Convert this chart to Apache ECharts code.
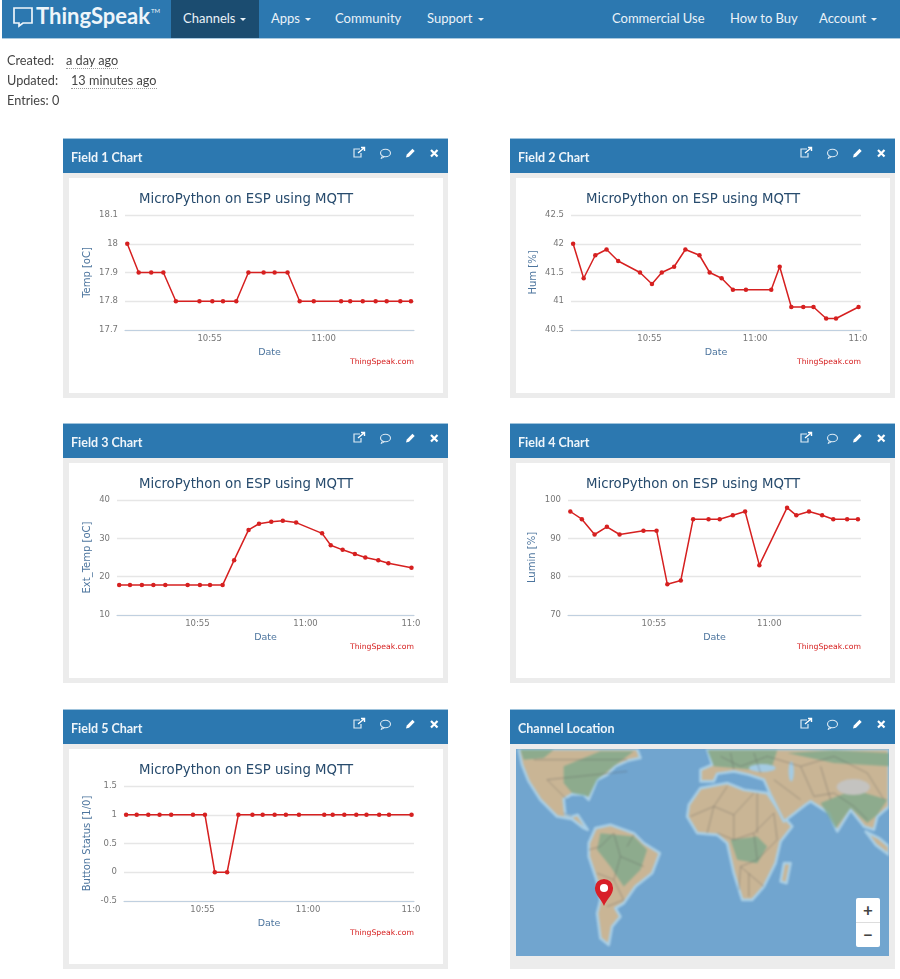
<!DOCTYPE html>
<html>
<head>
<meta charset="utf-8">
<title>ThingSpeak channel</title>
<script src="https://cdn.jsdelivr.net/npm/echarts@6/dist/echarts.min.js"></script>
<style>
  html, body { margin: 0; padding: 0; background: #fff; }
  #page { position: relative; width: 900px; height: 979px; overflow: hidden; font-family: Lato, sans-serif; color: #444; filter: blur(0.45px); }
  #nav { position: absolute; left: 2px; right: 0; top: 0; height: 38px; background: #2c78b0; border-bottom: 1px solid #a9c9e0; }
  #nav .active { position: absolute; left: 169px; top: 0; width: 88px; height: 38px; background: #1b4c70; }
  #nav .item { position: absolute; top: 10px; font-size: 13px; line-height: 16px; color: #eaf2f8; white-space: nowrap; }
  #nav .caret { display: inline-block; margin-left: 5px; vertical-align: middle; border-top: 3px solid #eaf2f8; border-left: 3px solid transparent; border-right: 3px solid transparent; }
  #logo { position: absolute; left: 34px; top: -4px; font-size: 22px; line-height: 30px; font-weight: 700; color: #eef5fa; }
  #logo sup { font-size: 6px; font-weight: 400; vertical-align: 11px; margin-left: 1px; }
  .meta { position: absolute; font-size: 12.7px; line-height: 16px; color: #444; white-space: nowrap; }
  .meta.u { border-bottom: 1px dotted #999; line-height: 15px; }
  .panel { position: absolute; width: 385px; height: 260px; background: #ececec; }
  .head { position: absolute; left: 0; right: 0; top: 0; height: 35px; background: #2c78b0; border-top: 1px solid #9fc3dc; box-sizing: border-box; }
  .head .name { position: absolute; left: 8px; top: 12px; font-size: 12.5px; line-height: 14px; font-weight: 700; color: #eef5fa; }
  .head svg { position: absolute; top: 7px; width: 14px; height: 14px; }
  .inner { position: absolute; left: 6px; top: 40px; width: 374px; height: 215px; background: #fff; }
  .chart { position: absolute; left: 0; top: 0; width: 352px; height: 215px; }
  .mapbox { position: absolute; left: 6px; top: 40px; width: 373px; height: 207px; overflow: hidden; background: #71a5cf; }
  .mapbox svg.world { position: absolute; left: 0; top: 0; width: 373px; height: 207px; filter: blur(0.9px); }
  .zoomctl { position: absolute; left: 340px; top: 149px; width: 24px; height: 49px; background: #fff; border-radius: 2px; font-size: 17px; line-height: 24px; font-weight: 700; text-align: center; color: #444; }
</style>
</head>
<body>
<div id="page">
  <div id="nav">
    <div class="active"></div>
    <svg style="position:absolute;left:10px;top:6px" width="22" height="22" viewBox="0 0 22 22"><path d="M2 2 H20 V17 H11 L7 20 V17 H2 Z" fill="none" stroke="#eef5fa" stroke-width="1.7"/></svg>
    <div id="logo">ThingSpeak<sup>TM</sup></div>
  </div>
  <div class="meta" style="left:7px;top:52px">Created:</div>
  <div class="meta u" style="left:66px;top:53px">a day ago</div>
  <div class="meta" style="left:7px;top:72px">Updated:</div>
  <div class="meta u" style="left:71px;top:73px">13 minutes ago</div>
  <div class="meta" style="left:7px;top:92px">Entries: 0</div>
</div>
<script>
// values (clock time of each MQTT post)
const times = ['10:51:23', '10:51:53', '10:52:26', '10:52:58', '10:53:31', '10:54:33', '10:55:07', '10:55:35',
  '10:56:10', '10:56:42', '10:57:22', '10:57:51', '10:58:25', '10:58:57', '10:59:34', '11:00:46',
  '11:01:10', '11:01:43', '11:02:17', '11:02:46', '11:03:22', '11:03:50', '11:04:54']
const temp = [18, 17.9, 17.9, 17.9, 17.8, 17.8, 17.8, 17.8, 17.8, 17.9, 17.9, 17.9, 17.9, 17.8, 17.8, 17.8, 17.8, 17.8, 17.8, 17.8, 17.8, 17.8]
const hum = [42, 41.4, 41.8, 41.9, 41.7, 41.5, 41.3, 41.5, 41.6, 41.9, 41.8, 41.5, 41.4, 41.2, 41.2, 41.2, 41.6, 40.9, 40.9, 40.9, 40.7, 40.7, 40.9]
const extTemp = [17.8, 17.8, 17.8, 17.8, 17.8, 17.8, 17.8, 17.8, 17.8, 24.3, 32.2, 33.8, 34.3, 34.6, 34.1, 31.3, 28.2, 27, 25.9, 25, 24.3, 23.5, 22.3]
const lumin = [97, 95, 91, 93, 91, 92, 92, 78, 79, 95, 95, 95, 96, 97, 83, 98, 96, 97, 96, 95, 95, 95]
const button = [1, 1, 1, 1, 1, 1, 1, 0, 0, 1, 1, 1, 1, 1, 1, 1, 1, 1, 1, 1, 1, 1, 1]
const xTicks = ['10:55:00', '11:00:00', '11:05:00']
const chartTitle = 'MicroPython on ESP using MQTT'

// x axis runs in seconds since midnight, labels are turned back into hh:mm
const toSec = s => +s.slice(0, 2) * 3600 + +s.slice(3, 5) * 60 + +s.slice(6, 8)
const pad = n => String(n).padStart(2, '0')

const panels = [
  { name: 'Field 1 Chart', x: 63, y: 138, values: temp, yName: 'Temp [oC]', min: 17.7, max: 18.1, step: 0.1, end: '11:03:58', left: 56, gap: 33 },
  { name: 'Field 2 Chart', x: 510, y: 138, values: hum, yName: 'Hum [%]', min: 40.5, max: 42.5, step: 0.5, end: '11:05:01', left: 55, gap: 33 },
  { name: 'Field 3 Chart', x: 63, y: 423, values: extTemp, yName: 'Ext_Temp [oC]', min: 10, max: 40, step: 10, end: '11:05:01', left: 48, gap: 25 },
  { name: 'Field 4 Chart', x: 510, y: 423, values: lumin, yName: 'Lumin [%]', min: 70, max: 100, step: 10, end: '11:03:58', left: 52, gap: 31 },
  { name: 'Field 5 Chart', x: 63, y: 709, values: button, yName: 'Button Status [1/0]', min: -0.5, max: 1.5, step: 0.5, end: '11:05:01', left: 55, gap: 32 }
]

const page = document.getElementById('page')
const nav = document.getElementById('nav')

const navItems = [
  ['Channels', 181, true], ['Apps', 269, true], ['Community', 333, false], ['Support', 425, true],
  ['Commercial Use', 610, false], ['How to Buy', 728, false], ['Account', 817, true]
]
navItems.forEach(([label, left, caret]) => {
  const el = document.createElement('div')
  el.className = 'item'
  el.style.left = left + 'px'
  el.innerHTML = label + (caret ? '<span class="caret"></span>' : '')
  nav.appendChild(el)
})

const headIcons = (a, b, c, d) => `
  <svg style="left:${a}px" viewBox="0 0 14 14"><path d="M8 3 H2 V11 H9 V7" fill="none" stroke="#dbe9f3" stroke-width="1.2"/><path d="M6 7 L12 2 M9 1.5 H12.5 V5" fill="none" stroke="#fff" stroke-width="1.4"/></svg>
  <svg style="left:${b}px" viewBox="0 0 14 14"><ellipse cx="7.5" cy="7" rx="5" ry="3.8" fill="none" stroke="#dbe9f3" stroke-width="1.1"/><path d="M4.5 10 L3 12.5 L6.5 10.8" fill="none" stroke="#dbe9f3" stroke-width="1"/></svg>
  <svg style="left:${c}px" viewBox="0 0 14 14"><path d="M3 11.5 L3.8 8.5 L9.5 2.8 L11.7 5 L6 10.7 Z" fill="#fff"/></svg>
  <svg style="left:${d}px" viewBox="0 0 14 14"><path d="M4 4 L10.5 10.5 M10.5 4 L4 10.5" stroke="#fff" stroke-width="2.2"/></svg>`

function addPanel (name, x, y) {
  const el = document.createElement('div')
  el.className = 'panel'
  el.style.left = x + 'px'
  el.style.top = y + 'px'
  el.innerHTML = '<div class="head"><div class="name">' + name + '</div>' + headIcons(289, 315, 340, 364) + '</div>'
  page.appendChild(el)
  return el
}

function renderChart (cfg) {
  const panel = addPanel(cfg.name, cfg.x, cfg.y)
  const inner = document.createElement('div')
  inner.className = 'inner'
  inner.innerHTML = '<div class="chart"></div>'
  panel.appendChild(inner)

  const chart = echarts.init(inner.firstChild)
  const data = cfg.values.map((v, i) => [toSec(times[i]), v])

  chart.setOption({
    animation: false,
    title: [
      { text: chartTitle, left: 172, top: 10, textAlign: 'center', textStyle: { color: '#274b6d', fontSize: 13.3, fontWeight: 'normal', fontFamily: 'DejaVu Sans' } },
      { text: 'ThingSpeak.com', right: 2, top: 175, textStyle: { color: '#d62020', fontSize: 7.7, fontWeight: 'normal', fontFamily: 'DejaVu Sans' } }
    ],
    grid: { left: cfg.left, width: 345 - cfg.left, top: 37, height: 115, outerBoundsMode: 'none' },
    xAxis: {
      type: 'value',
      min: toSec('10:51:17'),
      max: toSec(cfg.end),
      name: 'Date',
      nameLocation: 'middle',
      nameGap: 14,
      nameTextStyle: { color: '#4d759e', fontSize: 9.5, fontFamily: 'DejaVu Sans' },
      axisLine: { show: true, onZero: false, lineStyle: { color: '#c0d0e0', width: 1.2 } },
      axisTick: { show: false },
      splitLine: { show: false },
      axisLabel: {
        customValues: xTicks.map(toSec).filter(s => s <= toSec(cfg.end)),
        color: '#777',
        fontSize: 8.5,
        fontFamily: 'DejaVu Sans',
        margin: 4,
        hideOverlap: false,
        formatter: v => pad(Math.floor(v / 3600)) + ':' + pad(Math.floor(v / 60) % 60)
      }
    },
    yAxis: {
      type: 'value',
      min: cfg.min,
      max: cfg.max,
      interval: cfg.step,
      name: cfg.yName,
      nameLocation: 'middle',
      nameGap: cfg.gap,
      nameMoveOverlap: false,
      nameTextStyle: { color: '#4d759e', fontSize: 10, fontFamily: 'DejaVu Sans' },
      axisLine: { show: false },
      axisTick: { show: false },
      axisLabel: { color: '#777', fontSize: 8.5, fontFamily: 'DejaVu Sans', margin: 7 },
      splitLine: { lineStyle: { color: '#e6e6e6', width: 1.3 } }
    },
    series: [{
      type: 'line',
      data,
      symbol: 'circle',
      symbolSize: 4.5,
      showAllSymbol: true,
      lineStyle: { color: '#d62020', width: 1.5 },
      itemStyle: { color: '#d62020' }
    }]
  })
}

panels.forEach(renderChart)

// channel location panel, the tile map is only a backdrop here
const mapPanel = addPanel('Channel Location', 510, 709)
mapPanel.insertAdjacentHTML('beforeend', `
<div class="mapbox">
  <svg class="world" viewBox="47 148 1118 620" preserveAspectRatio="none">
    <g stroke="#a9cfe6" stroke-width="8" stroke-linejoin="round" fill="#c9b595">
      <path d="M55 148 L410 148 L420 175 L385 182 L345 200 L320 225 L290 240 L265 300 L250 285 L215 283 L190 298 L195 345 L215 350 L232 345 L245 365 L262 390 L250 385 L215 358 L170 350 L120 300 L85 245 L65 195 Z"/>
      <path d="M265 430 L285 385 L330 375 L400 400 L430 430 L478 460 L455 520 L405 560 L370 610 L345 625 L360 650 L335 680 L325 735 L300 715 L290 640 L300 600 L290 545 L265 470 Z"/>
      <path d="M600 265 L680 250 L730 270 L800 280 L840 340 L875 380 L840 425 L825 490 L790 560 L755 600 L725 600 L700 520 L680 430 L650 405 L590 400 L560 350 L565 315 Z"/>
      <path d="M620 148 L1165 148 L1165 320 L1130 350 L1120 390 L1090 380 L1050 330 L1010 395 L985 340 L930 305 L915 315 L850 365 L810 285 L790 240 L745 225 L700 215 L650 222 L640 245 L600 245 L600 210 L635 195 Z"/>
      <path d="M1095 395 L1135 415 L1165 440 L1165 465 L1125 435 Z"/>
      <path d="M850 490 L870 490 L858 550 L840 545 Z"/>
    </g>
    <g fill="#7fa98c" opacity="0.8">
      <path d="M190 200 L300 155 L400 155 L340 200 L290 240 L265 290 L215 280 L190 250 Z"/>
      <path d="M300 400 L400 410 L440 450 L420 510 L370 560 L330 500 L290 450 Z"/>
      <path d="M690 420 L770 410 L800 440 L770 490 L710 480 Z"/>
      <path d="M620 152 L830 152 L810 215 L700 205 L640 200 Z"/>
      <path d="M960 310 L1060 270 L1160 300 L1130 345 L1100 370 L1050 325 L1005 385 Z"/>
      <path d="M60 150 L160 150 L130 175 L70 180 Z"/>
      <path d="M860 160 L1000 152 L1165 160 L1165 200 L1000 190 Z"/>
    </g>
    <ellipse cx="1058" cy="262" rx="50" ry="24" fill="#c4c3c0"/>
    <ellipse cx="785" cy="205" rx="40" ry="12" fill="#a4cbe3"/>
    <ellipse cx="872" cy="215" rx="8" ry="30" fill="#a4cbe3"/>
    <g fill="none" stroke="#555" stroke-width="1.7" opacity="0.65">
      <path d="M570 350 L640 320 L680 260 M640 320 L700 345 L760 280 M700 345 L700 420 L760 400 L820 340 M760 400 L770 480 L720 500 L790 560 M640 320 L620 400 M700 420 L650 400 M770 280 L770 400 M820 340 L830 420 L770 480 M720 500 L715 570 M745 520 L745 590"/>
      <path d="M300 440 L340 400 L360 470 L430 500 M360 470 L340 540 L370 600 L320 620 M290 520 L340 540 M300 440 L265 450 M400 405 L380 440"/>
      <path d="M200 300 L140 240 L380 215 M100 180 L380 180 M215 350 L190 340"/>
      <path d="M660 170 L720 200 L800 170 L900 200 L1000 170 L1100 220 M900 200 L940 290 L1000 280 L1060 320 M1100 220 L1150 300 M760 160 L780 220 M690 160 L700 210 M820 240 L900 300 M960 200 L990 300 M1060 320 L1100 360"/>
    </g>
  </svg>
  <svg style="position:absolute;left:77px;top:129px" width="22" height="29" viewBox="0 0 24 32"><path d="M12 31 C9 23 2 19 2 11 A10 10 0 0 1 22 11 C22 19 15 23 12 31 Z" fill="#d81f28"/><circle cx="12" cy="11" r="4.5" fill="#fff"/></svg>
  <div class="zoomctl">+<div style="border-top:1px solid #ddd">&minus;</div></div>
</div>`)
</script>
</body>
</html>
